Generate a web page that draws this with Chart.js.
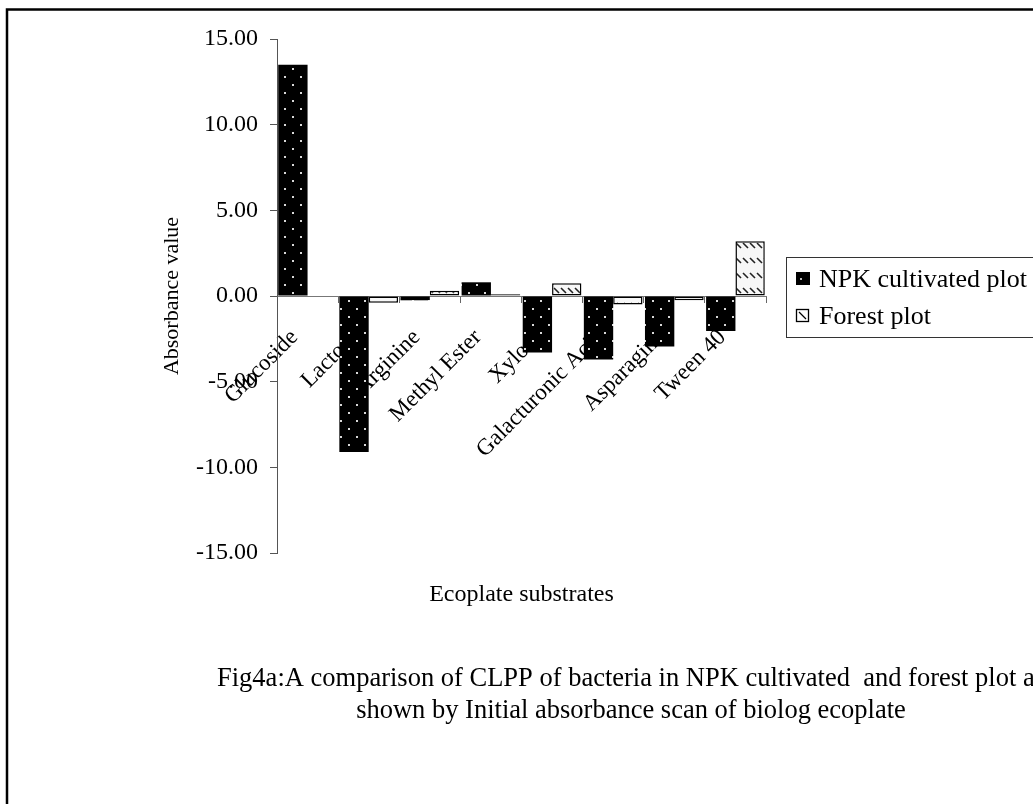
<!DOCTYPE html>
<html>
<head>
<meta charset="utf-8">
<title>CLPP Ecoplate</title>
<script src="https://cdn.jsdelivr.net/npm/chart.js@4/dist/chart.umd.min.js"></script>
<style>
  html, body { margin: 0; padding: 0; background: #fff; }
  #caja { width: 1033px; height: 804px; position: relative; }
</style>
</head>
<body>
<div id="caja"><canvas id="grafCLPP"></canvas></div>
<script>

/* =====================================
   DATOS
===================================== */

const sustratos = [
    "Glucoside",
    "Lactose",
    "Arginine",
    "Methyl Ester",
    "Xylose",
    "Galacturonic Acid",
    "Asparagine",
    "Tween 40"
];

const valoresNPK = [13.5, -9.1, -0.25, 0.8, -3.3, -3.7, -2.95, -2.05];

const valoresBosque = [0, -0.4, 0.3, 0.1, 0.75, -0.5, -0.25, 3.2];

const nombresSeries = ["NPK cultivated plot", "Forest plot"];

const ticksY = [-15, -10, -5, 0, 5, 10, 15];

const tituloX = "Ecoplate substrates";
const tituloY = "Absorbance value";

const leyendaFig = [
    "Fig4a:A comparison of CLPP of bacteria in NPK cultivated  and forest plot as",
    "shown by Initial absorbance scan of biolog ecoplate"
];

const FUENTE = '"Liberation Serif", "Times New Roman", serif';

/* =====================================
   TRAMAS
===================================== */

function patronPuntos(){

    const c = document.createElement("canvas");
    c.width = 16;
    c.height = 16;

    const g = c.getContext("2d");
    g.fillStyle = "#000";
    g.fillRect(0, 0, 16, 16);

    g.fillStyle = "#d8d8d8";
    g.fillRect(4, 4, 2, 2);
    g.fillRect(12, 12, 2, 2);

    return g.createPattern(c, "repeat");

}

function patronRayas(){

    const c = document.createElement("canvas");
    c.width = 7;
    c.height = 15;

    const g = c.getContext("2d");
    g.fillStyle = "#f7f7f7";
    g.fillRect(0, 0, 7, 15);

    g.strokeStyle = "#222";
    g.lineWidth = 1.6;
    g.beginPath();
    g.moveTo(1, 3);
    g.lineTo(6, 8);
    g.stroke();

    return g.createPattern(c, "repeat");

}

const tramaNPK = patronPuntos();
const tramaBosque = patronRayas();

/* =====================================
   MARCO, TITULO X, PIE Y LEYENDA
===================================== */

const decoraciones = {

    id: "decoraciones",

    afterDraw(chart){

        const ctx = chart.ctx;
        const area = chart.chartArea;

        ctx.save();

        // marco exterior
        ctx.strokeStyle = "#000";
        ctx.lineWidth = 2.5;
        ctx.strokeRect(7, 9.5, 1040, 810);

        ctx.fillStyle = "#000";
        ctx.textBaseline = "alphabetic";

        // titulo del eje x, centrado bajo el area
        ctx.textAlign = "center";
        ctx.font = "24px " + FUENTE;
        ctx.fillText(tituloX, (area.left + area.right) / 2, 601);

        // pie de figura
        ctx.font = "26.5px " + FUENTE;
        ctx.fillText(leyendaFig[0], 631, 686);
        ctx.fillText(leyendaFig[1], 631, 718);

        // leyenda
        ctx.textAlign = "left";
        ctx.fillStyle = "#fff";
        ctx.fillRect(786, 257, 260, 80);
        ctx.strokeStyle = "#333";
        ctx.lineWidth = 1;
        ctx.strokeRect(786.5, 257.5, 260, 80);

        const filas = [
            {y: 272, base: 287},
            {y: 309, base: 324}
        ];

        chart.data.datasets.forEach((ds, i) => {

            const f = filas[i];

            if(i === 0){
                ctx.fillStyle = "#000";
                ctx.fillRect(796, f.y, 14, 13);
                ctx.fillStyle = "#bbb";
                ctx.fillRect(800, f.y + 6, 2, 2);
            }else{
                ctx.fillStyle = "#fff";
                ctx.fillRect(796, f.y, 13, 13);
                ctx.strokeStyle = "#000";
                ctx.lineWidth = 1.3;
                ctx.strokeRect(796.5, f.y + 0.5, 12, 12);
                ctx.beginPath();
                ctx.moveTo(799, f.y + 3);
                ctx.lineTo(806, f.y + 10);
                ctx.stroke();
            }

            ctx.fillStyle = "#000";
            ctx.font = "26px " + FUENTE;
            ctx.fillText(ds.label, 819, f.base);

        });

        ctx.restore();

    }

};

/* =====================================
   GRAFICA
===================================== */

new Chart(

    document.getElementById("grafCLPP"),

    {

        type: "bar",

        data: {

            labels: sustratos,

            datasets: [

                {
                    label: nombresSeries[0],
                    data: valoresNPK,
                    backgroundColor: tramaNPK,
                    borderWidth: 0,
                    categoryPercentage: 0.96,
                    barPercentage: 1
                },

                {
                    label: nombresSeries[1],
                    data: valoresBosque,
                    backgroundColor: tramaBosque,
                    borderColor: "#000",
                    borderWidth: 1.5,
                    borderSkipped: false,
                    categoryPercentage: 0.96,
                    barPercentage: 1
                }

            ]

        },

        options: {

            responsive: true,
            maintainAspectRatio: false,
            animation: false,

            layout: {
                padding: {left: 0, top: 39, right: 267, bottom: 251}
            },

            plugins: {
                legend: {display: false},
                tooltip: {enabled: false}
            },

            scales: {

                x: {
                    position: {y: 0},
                    grid: {
                        display: true,
                        drawOnChartArea: false,
                        drawTicks: true,
                        tickLength: 6,
                        color: "#666",
                        offset: true
                    },
                    border: {display: true, color: "#777", width: 1},
                    ticks: {
                        autoSkip: false,
                        minRotation: 45,
                        maxRotation: 45,
                        padding: 22,
                        labelOffset: -13,
                        color: "#000",
                        font: {family: FUENTE, size: 23}
                    }
                },

                y: {
                    min: ticksY[0],
                    max: ticksY[ticksY.length - 1],
                    afterBuildTicks(scale){
                        scale.ticks = ticksY.map(v => ({value: v}));
                    },
                    afterFit(scale){
                        scale.width = 277;
                    },
                    grid: {
                        drawOnChartArea: false,
                        drawTicks: true,
                        tickLength: 7,
                        color: "#555"
                    },
                    border: {display: true, color: "#555", width: 1},
                    ticks: {
                        padding: 12,
                        color: "#000",
                        font: {family: FUENTE, size: 24},
                        callback: v => v.toFixed(2)
                    },
                    title: {
                        display: true,
                        text: tituloY,
                        color: "#000",
                        font: {family: FUENTE, size: 22},
                        padding: {top: 159, bottom: 0}
                    }
                }

            }

        },

        plugins: [decoraciones]

    }

);

</script>
</body>
</html>
